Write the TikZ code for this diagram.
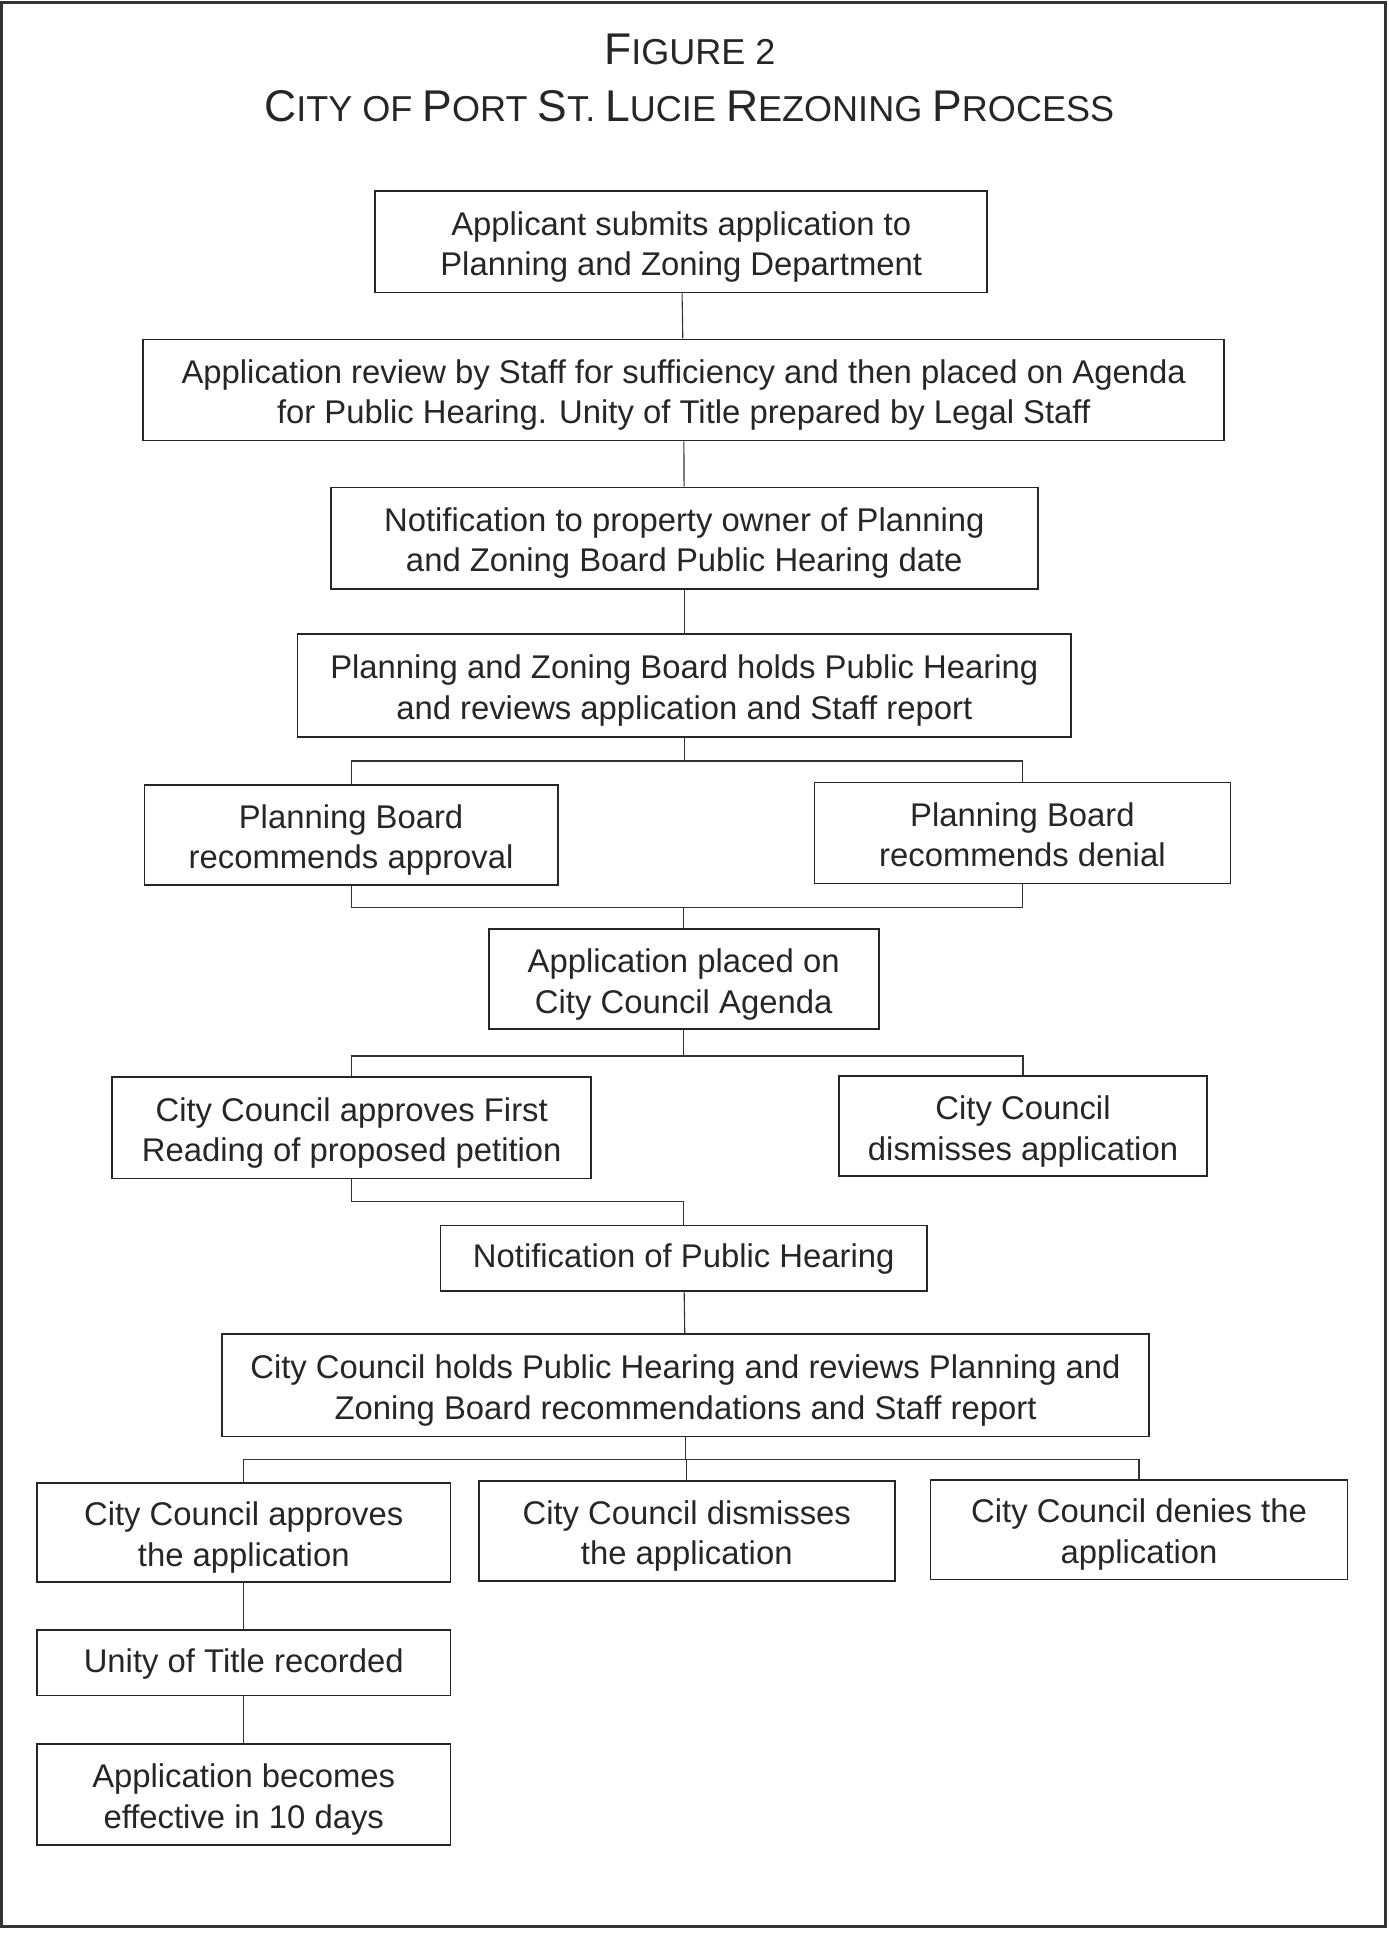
\documentclass[tikz,border=0pt]{standalone}
\usepackage{fontspec}
\setmainfont{Liberation Sans}
\usepackage{tikz}
\usetikzlibrary{calc, positioning}

\newcommand\TitleCap{\fontsize{36}{44}\selectfont}
\newcommand\TitleLow{\fontsize{29.2}{44}\selectfont}
% two lines / one line of box text, with fixed top and bottom
\newcommand\stagetwo[2]{\rule{0pt}{27.5pt}#1\\#2\rule[-5.5pt]{0pt}{5.5pt}}
\newcommand\stageone[1]{\rule[-5.5pt]{0pt}{27pt}#1}

\tikzset{
    stage/.style={draw=black!85, line width=1.4pt, text=black!85, align=center,
        inner sep=0pt, font=\fontsize{26.6}{33}\selectfont},
    link/.style={draw=black!80, line width=0.9pt}
}

\begin{document}
\begin{tikzpicture}[x=1pt, y=-1pt]
    % Khung
    \useasboundingbox (0,0) rectangle (1125,1568);
    \draw[black!80, line width=2.5pt] (1.5,2) rectangle (1123,1561);

    % Tieu de
    \node[text=black!85] (fig) at (559,40)
        {\TitleCap F\TitleLow IGURE 2};
    \node[text=black!85] (title) at (558.5,86)
        {\TitleCap C\TitleLow ITY OF \TitleCap P\TitleLow ORT \TitleCap S\TitleLow T. \TitleCap L\TitleLow UCIE \TitleCap R\TitleLow EZONING \TitleCap P\TitleLow ROCESS};

    % Cac buoc
    \node[stage, minimum width=496pt, minimum height=82pt] (submit) at (552,196)
        {\stagetwo{Applicant submits application to}{Planning and Zoning Department}};
    \node[stage, minimum width=876pt, minimum height=82pt] (review) at (554,316)
        {\stagetwo{Application review by Staff for sufficiency and then placed on Agenda}{for Public Hearing. Unity of Title prepared by Legal Staff}};
    \node[stage, minimum width=573pt, minimum height=82pt] (owner) at (554.5,436)
        {\stagetwo{Notification to property owner of Planning}{and Zoning Board Public Hearing date}};
    \node[stage, minimum width=627pt, minimum height=83pt] (pzb) at (554.5,555.5)
        {\stagetwo{Planning and Zoning Board holds Public Hearing}{and reviews application and Staff report}};
    \node[stage, minimum width=335pt, minimum height=81pt] (pbyes) at (284.5,676.5)
        {\stagetwo{Planning Board}{recommends approval}};
    \node[stage, minimum width=337pt, minimum height=82pt] (pbno) at (828.5,675)
        {\stagetwo{Planning Board}{recommends denial}};
    \node[stage, minimum width=316pt, minimum height=81pt] (agenda) at (554,793.5)
        {\stagetwo{Application placed on}{City Council Agenda}};
    \node[stage, minimum width=388pt, minimum height=82pt] (first) at (285,914)
        {\stagetwo{City Council approves First}{Reading of proposed petition}};
    \node[stage, minimum width=298pt, minimum height=81pt] (ccdrop) at (829,912.5)
        {\stagetwo{City Council}{dismisses application}};
    \node[stage, minimum width=394pt, minimum height=53pt] (notice) at (554,1019.5)
        {\stageone{Notification of Public Hearing}};
    \node[stage, minimum width=751pt, minimum height=83pt] (hearing) at (555.5,1122.5)
        {\stagetwo{City Council holds Public Hearing and reviews Planning and}{Zoning Board recommendations and Staff report}};
    \node[stage, minimum width=335pt, minimum height=80pt] (ccyes) at (197.5,1242)
        {\stagetwo{City Council approves}{the application}};
    \node[stage, minimum width=337pt, minimum height=81pt] (ccdis) at (556.5,1240.5)
        {\stagetwo{City Council dismisses}{the application}};
    \node[stage, minimum width=338pt, minimum height=81pt] (ccno) at (923,1239.5)
        {\stagetwo{City Council denies the}{application}};
    \node[stage, minimum width=335pt, minimum height=53pt] (unity) at (197.5,1347.5)
        {\stageone{Unity of Title recorded}};
    \node[stage, minimum width=335pt, minimum height=82pt] (effect) at (197.5,1454)
        {\stagetwo{Application becomes}{effective in 10 days}};

    % Duong noi
    \draw[link] (submit) -- (review);
    \draw[link] (review) -- (owner);
    \draw[link] (owner) -- (pzb);
    \draw[link] (pzb.south) -- ++(0,19) coordinate (j1) -| (pbyes.north);
    \draw[link] (j1) -| (pbno.north);
    \draw[link] (pbyes.south) -- ++(0,18) coordinate (j2) -| (pbno.south);
    \draw[link] (agenda.north) -- (agenda.north |- j2);
    \draw[link] (agenda.south) -- ++(0,21) coordinate (j3) -| (first.north);
    \draw[link] (j3) -| (ccdrop.north);
    \draw[link] (first.south) -- ++(0,18) -| (notice.north);
    \draw[link] (notice) -- (hearing);
    \draw[link] (hearing.south) -- ++(0,18) coordinate (j4) -| (ccyes.north);
    \draw[link] (j4) -| (ccdis.north);
    \draw[link] (j4) -| (ccno.north);
    \draw[link] (ccyes) -- (unity);
    \draw[link] (unity) -- (effect);
\end{tikzpicture}
\end{document}
